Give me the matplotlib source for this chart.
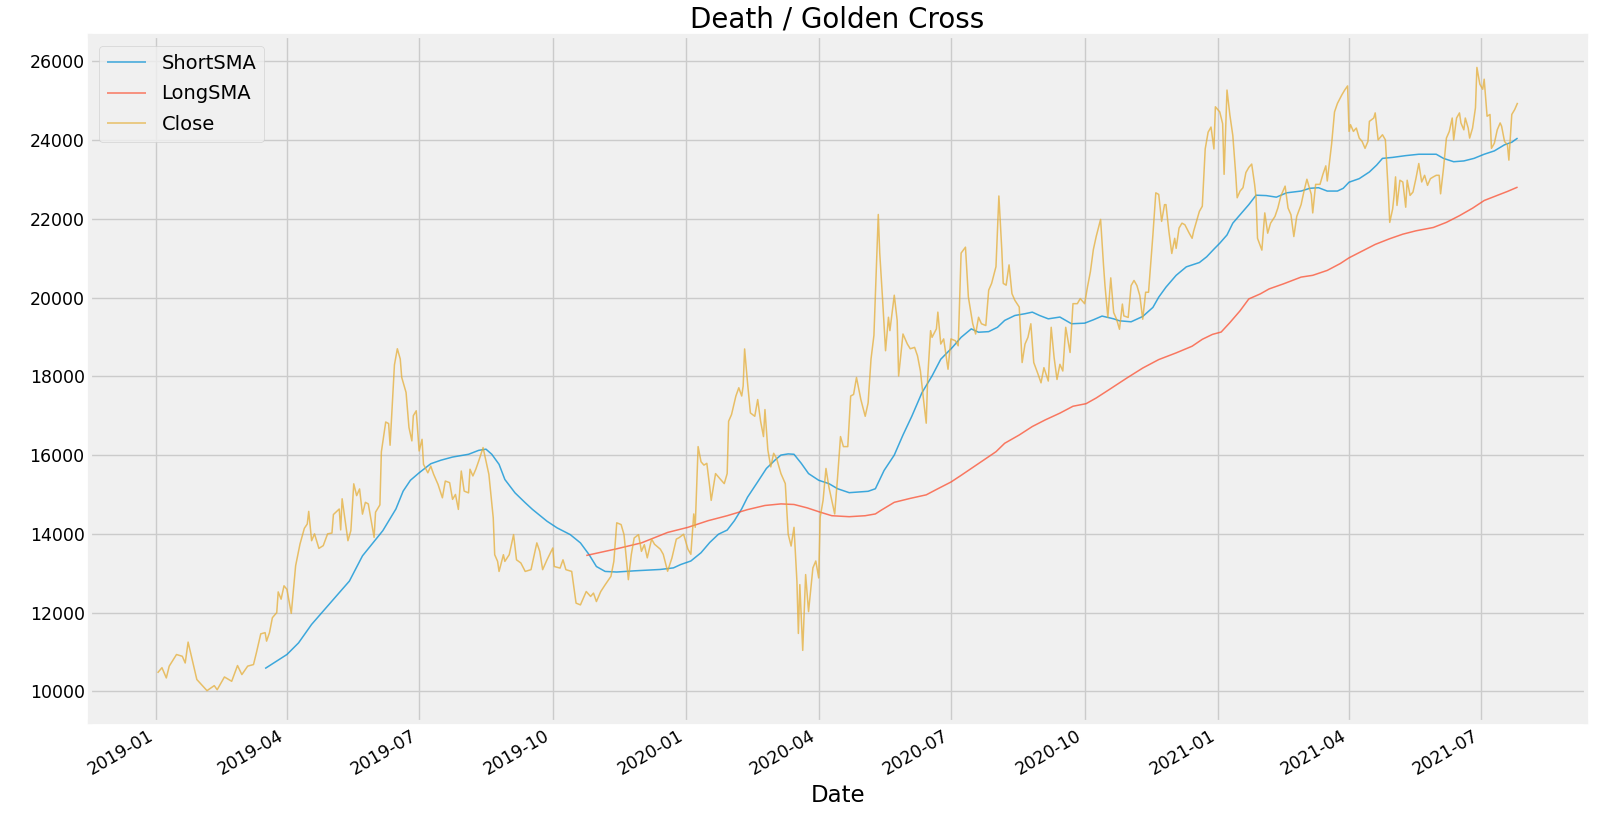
import pandas as pd
import numpy as np
import matplotlib
matplotlib.use('Agg')
import matplotlib.pyplot as plt
import matplotlib.dates as mdates

# values
close_dates = [
    '2019-01-02', '2019-01-05', '2019-01-08', '2019-01-10', '2019-01-15', '2019-01-19', '2019-01-21', '2019-01-23',
    '2019-01-29', '2019-02-05', '2019-02-10', '2019-02-12', '2019-02-17', '2019-02-22', '2019-02-26', '2019-03-01',
    '2019-03-05', '2019-03-09', '2019-03-11', '2019-03-14', '2019-03-17', '2019-03-18', '2019-03-20', '2019-03-22',
    '2019-03-25', '2019-03-26', '2019-03-28', '2019-03-30', '2019-04-01', '2019-04-04', '2019-04-07', '2019-04-10',
    '2019-04-13', '2019-04-15', '2019-04-16', '2019-04-18', '2019-04-20', '2019-04-23', '2019-04-26', '2019-04-29',
    '2019-05-02', '2019-05-03', '2019-05-07', '2019-05-08', '2019-05-09', '2019-05-13', '2019-05-15', '2019-05-17',
    '2019-05-19', '2019-05-21', '2019-05-23', '2019-05-25', '2019-05-27', '2019-05-31', '2019-06-01', '2019-06-04',
    '2019-06-05', '2019-06-08', '2019-06-10', '2019-06-11', '2019-06-14', '2019-06-16', '2019-06-18', '2019-06-19',
    '2019-06-22', '2019-06-24', '2019-06-26', '2019-06-27', '2019-06-29', '2019-07-01', '2019-07-03', '2019-07-04',
    '2019-07-07', '2019-07-09', '2019-07-11', '2019-07-14', '2019-07-17', '2019-07-19', '2019-07-22', '2019-07-24',
    '2019-07-26', '2019-07-28', '2019-07-30', '2019-08-01', '2019-08-04', '2019-08-05', '2019-08-07', '2019-08-09',
    '2019-08-11', '2019-08-14', '2019-08-16', '2019-08-18', '2019-08-21', '2019-08-22', '2019-08-24', '2019-08-25',
    '2019-08-28', '2019-08-29', '2019-09-01', '2019-09-04', '2019-09-06', '2019-09-09', '2019-09-12', '2019-09-16',
    '2019-09-20', '2019-09-22', '2019-09-24', '2019-09-27', '2019-10-01', '2019-10-02', '2019-10-06', '2019-10-08',
    '2019-10-10', '2019-10-14', '2019-10-17', '2019-10-20', '2019-10-22', '2019-10-24', '2019-10-27', '2019-10-29',
    '2019-10-31', '2019-11-03', '2019-11-06', '2019-11-10', '2019-11-12', '2019-11-14', '2019-11-17', '2019-11-19',
    '2019-11-22', '2019-11-24', '2019-11-26', '2019-11-29', '2019-12-01', '2019-12-03', '2019-12-05', '2019-12-08',
    '2019-12-10', '2019-12-14', '2019-12-16', '2019-12-19', '2019-12-22', '2019-12-25', '2019-12-27', '2019-12-30',
    '2020-01-02', '2020-01-04', '2020-01-06', '2020-01-07', '2020-01-09', '2020-01-11', '2020-01-13', '2020-01-15',
    '2020-01-17', '2020-01-18', '2020-01-21', '2020-01-24', '2020-01-27', '2020-01-29', '2020-01-30', '2020-02-01',
    '2020-02-04', '2020-02-06', '2020-02-08', '2020-02-09', '2020-02-10', '2020-02-12', '2020-02-14', '2020-02-17',
    '2020-02-19', '2020-02-21', '2020-02-23', '2020-02-24', '2020-02-26', '2020-02-28', '2020-03-01', '2020-03-03',
    '2020-03-06', '2020-03-09', '2020-03-11', '2020-03-13', '2020-03-15', '2020-03-17', '2020-03-18', '2020-03-19',
    '2020-03-21', '2020-03-23', '2020-03-25', '2020-03-28', '2020-03-30', '2020-04-01', '2020-04-02', '2020-04-04',
    '2020-04-06', '2020-04-08', '2020-04-10', '2020-04-12', '2020-04-14', '2020-04-16', '2020-04-18', '2020-04-21',
    '2020-04-23', '2020-04-25', '2020-04-27', '2020-04-30', '2020-05-03', '2020-05-05', '2020-05-07', '2020-05-09',
    '2020-05-12', '2020-05-13', '2020-05-15', '2020-05-17', '2020-05-19', '2020-05-20', '2020-05-22', '2020-05-23',
    '2020-05-25', '2020-05-26', '2020-05-29', '2020-06-01', '2020-06-03', '2020-06-06', '2020-06-08', '2020-06-10',
    '2020-06-12', '2020-06-14', '2020-06-15', '2020-06-17', '2020-06-18', '2020-06-21', '2020-06-22', '2020-06-24',
    '2020-06-26', '2020-06-29', '2020-07-01', '2020-07-04', '2020-07-06', '2020-07-08', '2020-07-11', '2020-07-13',
    '2020-07-16', '2020-07-18', '2020-07-20', '2020-07-22', '2020-07-25', '2020-07-27', '2020-07-29', '2020-08-01',
    '2020-08-03', '2020-08-05', '2020-08-06', '2020-08-08', '2020-08-10', '2020-08-12', '2020-08-14', '2020-08-17',
    '2020-08-19', '2020-08-21', '2020-08-23', '2020-08-25', '2020-08-27', '2020-08-30', '2020-09-01', '2020-09-03',
    '2020-09-06', '2020-09-08', '2020-09-10', '2020-09-12', '2020-09-14', '2020-09-16', '2020-09-18', '2020-09-21',
    '2020-09-23', '2020-09-26', '2020-09-28', '2020-10-01', '2020-10-03', '2020-10-05', '2020-10-07', '2020-10-09',
    '2020-10-12', '2020-10-14', '2020-10-15', '2020-10-17', '2020-10-19', '2020-10-21', '2020-10-23', '2020-10-25',
    '2020-10-27', '2020-10-28', '2020-10-31', '2020-11-02', '2020-11-04', '2020-11-06', '2020-11-08', '2020-11-10',
    '2020-11-12', '2020-11-14', '2020-11-17', '2020-11-19', '2020-11-21', '2020-11-23', '2020-11-25', '2020-11-26',
    '2020-11-28', '2020-11-30', '2020-12-02', '2020-12-03', '2020-12-05', '2020-12-07', '2020-12-09', '2020-12-12',
    '2020-12-14', '2020-12-15', '2020-12-17', '2020-12-19', '2020-12-21', '2020-12-23', '2020-12-25', '2020-12-27',
    '2020-12-29', '2020-12-30', '2021-01-02', '2021-01-04', '2021-01-05', '2021-01-07', '2021-01-09', '2021-01-11',
    '2021-01-13', '2021-01-14', '2021-01-16', '2021-01-18', '2021-01-20', '2021-01-22', '2021-01-24', '2021-01-26',
    '2021-01-27', '2021-01-28', '2021-01-31', '2021-02-02', '2021-02-04', '2021-02-06', '2021-02-09', '2021-02-11',
    '2021-02-13', '2021-02-16', '2021-02-18', '2021-02-20', '2021-02-22', '2021-02-24', '2021-02-27', '2021-03-01',
    '2021-03-03', '2021-03-06', '2021-03-07', '2021-03-09', '2021-03-12', '2021-03-14', '2021-03-16', '2021-03-17',
    '2021-03-20', '2021-03-22', '2021-03-24', '2021-03-27', '2021-03-29', '2021-03-31', '2021-04-01', '2021-04-02',
    '2021-04-04', '2021-04-06', '2021-04-08', '2021-04-10', '2021-04-12', '2021-04-14', '2021-04-15', '2021-04-18',
    '2021-04-19', '2021-04-21', '2021-04-23', '2021-04-24', '2021-04-26', '2021-04-28', '2021-04-29', '2021-05-01',
    '2021-05-02', '2021-05-03', '2021-05-04', '2021-05-06', '2021-05-08', '2021-05-10', '2021-05-11', '2021-05-13',
    '2021-05-15', '2021-05-17', '2021-05-19', '2021-05-21', '2021-05-23', '2021-05-25', '2021-05-27', '2021-05-29',
    '2021-05-31', '2021-06-02', '2021-06-03', '2021-06-05', '2021-06-07', '2021-06-09', '2021-06-11', '2021-06-12',
    '2021-06-14', '2021-06-16', '2021-06-17', '2021-06-19', '2021-06-20', '2021-06-22', '2021-06-23', '2021-06-25',
    '2021-06-27', '2021-06-28', '2021-06-30', '2021-07-02', '2021-07-03', '2021-07-05', '2021-07-07', '2021-07-08',
    '2021-07-10', '2021-07-12', '2021-07-14', '2021-07-15', '2021-07-17', '2021-07-19', '2021-07-20', '2021-07-22',
    '2021-07-24', '2021-07-26',
]
close_values = [
    10470, 10600, 10340, 10640, 10935, 10890, 10720, 11250,
    10300, 10017, 10145, 10040, 10365, 10255, 10655, 10425,
    10640, 10680, 10980, 11460, 11490, 11275, 11490, 11870,
    12000, 12525, 12340, 12680, 12590, 11980, 13190, 13740,
    14140, 14250, 14570, 13825, 14000, 13630, 13700, 14000,
    14020, 14490, 14630, 14100, 14890, 13825, 14080, 15270,
    14970, 15140, 14500, 14800, 14760, 13910, 14550, 14735,
    16080, 16840, 16800, 16250, 18290, 18700, 18440, 17975,
    17590, 16700, 16360, 17000, 17125, 16105, 16400, 15765,
    15550, 15720, 15510, 15255, 14915, 15340, 15300, 14875,
    15000, 14620, 15595, 15085, 15040, 15640, 15470, 15640,
    15850, 16190, 15850, 15510, 14405, 13470, 13300, 13045,
    13470, 13300, 13470, 13980, 13340, 13260, 13045, 13090,
    13770, 13555, 13090, 13340, 13640, 13170, 13130, 13340,
    13090, 13045, 12240, 12195, 12365, 12535, 12410, 12495,
    12280, 12535, 12705, 12920, 13300, 14280, 14235, 13980,
    12835, 13470, 13895, 13980, 13555, 13725, 13390, 13865,
    13735, 13610, 13480, 13050, 13390, 13865, 13905, 13990,
    13610, 13480, 14505, 14165, 16215, 15830, 15745, 15790,
    15190, 14850, 15530, 15400, 15275, 15530, 16860, 17030,
    17500, 17710, 17500, 17755, 18695, 17840, 17070, 16985,
    17410, 16860, 16470, 17155, 16130, 15700, 16045, 15915,
    15530, 15275, 13990, 13690, 14165, 12795, 11470, 12710,
    11040, 12965, 12025, 13135, 13310, 12880, 14420, 14850,
    15660, 15190, 14850, 14505, 15445, 16470, 16215, 16215,
    17500, 17540, 17970, 17410, 16985, 17325, 18440, 19040,
    22110, 21130, 19930, 18650, 19500, 19160, 19760, 20060,
    19420, 18010, 19075, 18820, 18700, 18735, 18520, 18135,
    17450, 16810, 17965, 19160, 18990, 19205, 19630, 18820,
    18950, 18180, 18950, 18905, 18775, 21130, 21280, 20015,
    19335, 19075, 19500, 19335, 19290, 20190, 20360, 20785,
    22580, 21215, 20360, 20315, 20830, 20100, 19930, 19760,
    18350, 18820, 18990, 19335, 18350, 18050, 17835, 18220,
    17880, 19245, 18480, 17920, 18305, 18135, 19245, 18605,
    19845, 19845, 19975, 19845, 20275, 20660, 21215, 21555,
    21985, 20830, 20315, 19500, 20500, 19620, 19450, 19195,
    19835, 19535, 19495, 20305, 20435, 20305, 20050, 19450,
    20135, 20135, 21590, 22660, 22620, 21935, 22360, 22360,
    21680, 21120, 21505, 21250, 21765, 21890, 21850, 21635,
    21505, 21680, 21935, 22190, 22320, 23775, 24200, 24330,
    23775, 24845, 24715, 24415, 23130, 25270, 24630, 24115,
    23130, 22535, 22705, 22790, 23175, 23305, 23390, 22875,
    22535, 21505, 21205, 22150, 21635, 21890, 22060, 22275,
    22575, 22830, 22275, 22105, 21550, 22060, 22360, 22705,
    23005, 22620, 22150, 22875, 22875, 23130, 23345, 22960,
    23900, 24715, 24930, 25145, 25270, 25375, 24220, 24390,
    24220, 24305, 24050, 23965, 23790, 23965, 24475, 24560,
    24690, 24005, 24090, 24135, 24005, 22680, 21910, 22250,
    22595, 23065, 22340, 22980, 22935, 22295, 22980, 22595,
    22680, 23020, 23405, 22935, 23105, 22850, 23020, 23065,
    23105, 23105, 22635, 23280, 24050, 24220, 24560, 24005,
    24560, 24690, 24435, 24260, 24560, 24305, 24050, 24305,
    24820, 25845, 25420, 25290, 25545, 24605, 24650, 23790,
    23920, 24260, 24435, 24350, 23965, 23880, 23490, 24650,
    24775, 24945,
]

short_dates = [
    '2019-03-17', '2019-04-01', '2019-04-09', '2019-04-18', '2019-04-26', '2019-05-05', '2019-05-14', '2019-05-23',
    '2019-06-06', '2019-06-15', '2019-06-20', '2019-06-25', '2019-07-01', '2019-07-09', '2019-07-16', '2019-07-24',
    '2019-08-04', '2019-08-11', '2019-08-16', '2019-08-20', '2019-08-25', '2019-08-29', '2019-09-05', '2019-09-12',
    '2019-09-17', '2019-09-27', '2019-10-04', '2019-10-13', '2019-10-20', '2019-10-26', '2019-10-31', '2019-11-06',
    '2019-11-14', '2019-11-26', '2019-12-14', '2019-12-23', '2019-12-28', '2020-01-04', '2020-01-11', '2020-01-17',
    '2020-01-23', '2020-01-29', '2020-02-03', '2020-02-08', '2020-02-12', '2020-02-19', '2020-02-25', '2020-03-02',
    '2020-03-06', '2020-03-11', '2020-03-15', '2020-03-20', '2020-03-25', '2020-04-01', '2020-04-08', '2020-04-14',
    '2020-04-22', '2020-04-28', '2020-05-05', '2020-05-10', '2020-05-12', '2020-05-16', '2020-05-23', '2020-05-29',
    '2020-06-04', '2020-06-11', '2020-06-18', '2020-06-24', '2020-07-02', '2020-07-08', '2020-07-15', '2020-07-20',
    '2020-07-27', '2020-08-02', '2020-08-07', '2020-08-14', '2020-08-21', '2020-08-26', '2020-08-31', '2020-09-06',
    '2020-09-14', '2020-09-22', '2020-10-01', '2020-10-07', '2020-10-13', '2020-10-21', '2020-10-25', '2020-11-02',
    '2020-11-10', '2020-11-17', '2020-11-21', '2020-11-26', '2020-12-03', '2020-12-10', '2020-12-19', '2020-12-24',
    '2020-12-29', '2021-01-02', '2021-01-07', '2021-01-11', '2021-01-16', '2021-01-22', '2021-01-27', '2021-02-03',
    '2021-02-10', '2021-02-17', '2021-02-27', '2021-03-05', '2021-03-11', '2021-03-17', '2021-03-24', '2021-03-28',
    '2021-04-01', '2021-04-08', '2021-04-15', '2021-04-20', '2021-04-24', '2021-05-01', '2021-05-10', '2021-05-19',
    '2021-05-31', '2021-06-05', '2021-06-12', '2021-06-19', '2021-06-26', '2021-07-03', '2021-07-10', '2021-07-17',
    '2021-07-22', '2021-07-26',
]
short_values = [
    10580, 10935, 11230, 11700, 12040, 12420, 12800, 13440,
    14080, 14630, 15085, 15360, 15550, 15780, 15870, 15950,
    16020, 16120, 16150, 16020, 15765, 15380, 15040, 14790,
    14620, 14320, 14150, 13980, 13770, 13470, 13170, 13045,
    13030, 13060, 13095, 13135, 13220, 13310, 13520, 13780,
    13990, 14095, 14335, 14635, 14930, 15320, 15660, 15875,
    16000, 16030, 16020, 15790, 15530, 15360, 15275, 15145,
    15045, 15060, 15080, 15145, 15300, 15610, 16000, 16510,
    16980, 17580, 18010, 18435, 18735, 18990, 19205, 19120,
    19135, 19245, 19420, 19545, 19590, 19630, 19545, 19460,
    19505, 19335, 19350, 19435, 19530, 19460, 19410, 19385,
    19520, 19750, 20010, 20265, 20565, 20780, 20890, 21035,
    21230, 21380, 21590, 21890, 22105, 22360, 22600, 22590,
    22550, 22660, 22705, 22775, 22790, 22705, 22705, 22775,
    22930, 23020, 23190, 23365, 23535, 23560, 23605, 23640,
    23640, 23535, 23450, 23470, 23535, 23640, 23725, 23880,
    23945, 24050,
]

long_dates = [
    '2019-10-24', '2019-11-14', '2019-12-01', '2019-12-19', '2020-01-02', '2020-01-16', '2020-01-29', '2020-02-12',
    '2020-02-24', '2020-03-06', '2020-03-15', '2020-03-24', '2020-04-02', '2020-04-10', '2020-04-22', '2020-05-03',
    '2020-05-10', '2020-05-14', '2020-05-23', '2020-06-03', '2020-06-14', '2020-06-22', '2020-07-01', '2020-07-08',
    '2020-07-20', '2020-08-01', '2020-08-07', '2020-08-17', '2020-08-26', '2020-09-04', '2020-09-14', '2020-09-23',
    '2020-10-02', '2020-10-09', '2020-10-18', '2020-10-30', '2020-11-10', '2020-11-21', '2020-12-03', '2020-12-14',
    '2020-12-21', '2020-12-28', '2021-01-03', '2021-01-09', '2021-01-16', '2021-01-22', '2021-01-30', '2021-02-05',
    '2021-02-15', '2021-02-27', '2021-03-07', '2021-03-17', '2021-03-26', '2021-04-01', '2021-04-10', '2021-04-19',
    '2021-04-29', '2021-05-08', '2021-05-17', '2021-05-29', '2021-06-07', '2021-06-16', '2021-06-25', '2021-07-03',
    '2021-07-12', '2021-07-19', '2021-07-26',
]
long_values = [
    13450, 13620, 13770, 14035, 14165, 14335, 14460, 14615,
    14720, 14760, 14745, 14660, 14550, 14460, 14435, 14460,
    14505, 14600, 14800, 14900, 14990, 15145, 15315, 15485,
    15785, 16085, 16300, 16510, 16725, 16895, 17065, 17240,
    17305, 17450, 17665, 17955, 18210, 18425, 18595, 18765,
    18940, 19065, 19125, 19365, 19665, 19965, 20095, 20220,
    20350, 20520, 20565, 20690, 20865, 21010, 21180, 21350,
    21495, 21610, 21695, 21780, 21910, 22080, 22270, 22465,
    22595, 22695, 22805,
]

close = pd.Series(close_values, index=pd.to_datetime(close_dates))
short_sma = pd.Series(short_values, index=pd.to_datetime(short_dates))
long_sma = pd.Series(long_values, index=pd.to_datetime(long_dates))

plt.style.use('fivethirtyeight')
plt.rcParams['font.family'] = ['DejaVu Sans']

fig = plt.figure(figsize=(16, 8.24), dpi=100, facecolor='white')
ax = fig.add_axes([0.056, 0.124, 0.935, 0.832])

ax.plot(short_sma, label='ShortSMA', alpha=0.75, linewidth=1.1)
ax.plot(long_sma, label='LongSMA', alpha=0.75, linewidth=1.1)
ax.plot(close, label='Close', alpha=0.75, linewidth=1.1)

ax.set_title('Death / Golden Cross', fontsize=20)
ax.set_xlabel('Date', fontsize=16.5)
ax.xaxis.set_major_locator(mdates.MonthLocator(bymonth=[1, 4, 7, 10]))
ax.xaxis.set_major_formatter(mdates.DateFormatter('%Y-%m'))
ax.tick_params(labelsize=12.5)
for lbl in ax.get_xticklabels():
    lbl.set_rotation(30)
    lbl.set_ha('right')
ax.legend(loc='upper left', fontsize=14, labelspacing=0.6)

fig.savefig('out.png', dpi=100, facecolor='white')
